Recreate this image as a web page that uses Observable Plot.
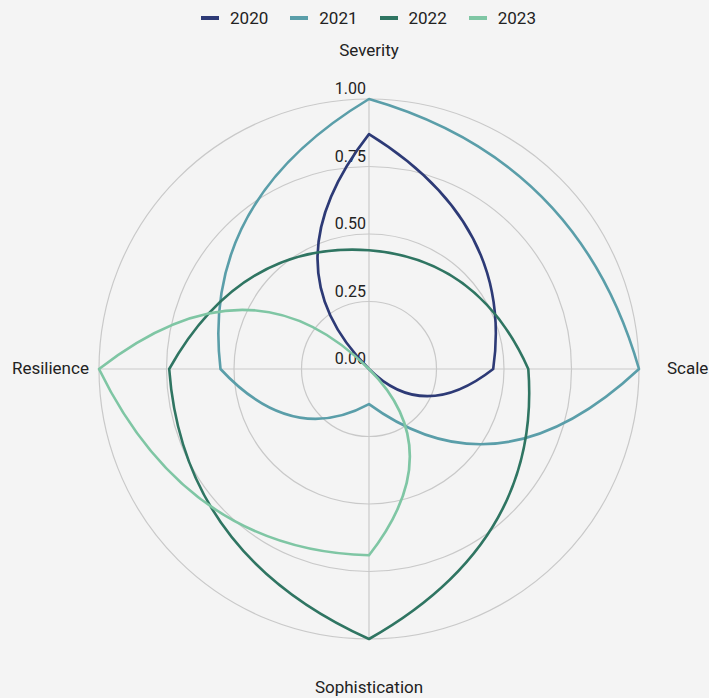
<!DOCTYPE html>
<html>
<head>
<meta charset="utf-8">
<script src="https://cdn.jsdelivr.net/npm/d3@7"></script>
<script src="https://cdn.jsdelivr.net/npm/@observablehq/plot@0.6"></script>
<style>
html, body { margin: 0; padding: 0; background: #f4f4f4; }
body { width: 709px; height: 698px; overflow: hidden; font-family: Roboto, sans-serif; }
#legend { height: 35px; width: 709px; box-sizing: border-box; padding-left: 28px; display: flex; justify-content: center; align-items: center; font-size: 17px; color: #222; }
.item { display: flex; align-items: center; margin: 0 11px; }
.sw { width: 18px; height: 4px; margin-right: 11px; }
#chart svg { display: block; }
</style>
</head>
<body>
<div id="legend"></div>
<div id="chart"></div>
<script>
// ---- data ----
const years = ["2020", "2021", "2022", "2023"];
const colors = ["#2d3a76", "#5a9ea9", "#2f7562", "#7fc6a4"];
const axes = ["Severity", "Scale", "Sophistication", "Resilience"];
const values2020 = [0.87, 0.46, 0, 0];
const values2021 = [1, 1, 0.13, 0.55];
const values2022 = [0.44, 0.59, 1, 0.74];
const values2023 = [0, 0, 0.69, 1];
const tickValues = [0, 0.25, 0.5, 0.75, 1];
const labelRadius = 1.18;

// ---- layout ----
const W = 709, H = 663;
const mL = 98.5, mR = 70.5, mT = 63.5, mB = 59.5;
const R = (W - mL - mR) / 2;
const cx = mL + R, cy = mT + R;

const seriesValues = [values2020, values2021, values2022, values2023];
const angle = i => i * 2 * Math.PI / axes.length;
const rows = years.flatMap((year, k) =>
  axes.map((axis, i) => ({year, axis, i, value: seriesValues[k][i]})));

// curved radar segments: each edge bends toward the bisector of its two spokes
function radarCurve(context) {
  let pts = [];
  return {
    areaStart() {}, areaEnd() {},
    lineStart() { pts = []; },
    point(x, y) { pts.push([+x, +y]); },
    lineEnd() {
      const n = pts.length;
      if (!n) return;
      context.moveTo(pts[0][0], pts[0][1]);
      for (let i = 0; i < n; i++) {
        const p0 = pts[i], p1 = pts[(i + 1) % n];
        const r0 = Math.hypot(p0[0] - cx, p0[1] - cy);
        const r1 = Math.hypot(p1[0] - cx, p1[1] - cy);
        const a = (i + 0.5) * 2 * Math.PI / n;
        const rc = 0.62 * Math.max(r0, r1) + 0.48 * Math.min(r0, r1);
        context.quadraticCurveTo(cx + rc * Math.sin(a), cy - rc * Math.cos(a), p1[0], p1[1]);
      }
      context.closePath();
    }
  };
}

// ---- legend ----
const legend = document.getElementById("legend");
years.forEach((y, k) => {
  const it = document.createElement("div");
  it.className = "item";
  it.innerHTML = `<span class="sw" style="background:${colors[k]}"></span><span>${y}</span>`;
  legend.appendChild(it);
});

const grid = "#c9c9c9";
const chart = Plot.plot({
  width: W, height: H,
  marginLeft: mL, marginRight: mR, marginTop: mT, marginBottom: mB,
  x: {domain: [-1, 1], axis: null},
  y: {domain: [-1, 1], axis: null},
  r: {type: "linear", domain: [0, 1], range: [0, R]},
  color: {domain: years, range: colors},
  style: {background: "transparent", fontFamily: "Roboto, sans-serif", overflow: "visible"},
  marks: [
    Plot.dot(tickValues.filter(d => d > 0), {x: () => 0, y: () => 0, r: d => d, stroke: grid, fill: "none", strokeWidth: 1.2}),
    Plot.link(axes, {x1: () => 0, y1: () => 0, x2: (d, i) => Math.sin(angle(i)), y2: (d, i) => Math.cos(angle(i)), stroke: grid, strokeWidth: 1.2}),
    Plot.text(tickValues, {x: () => 0, y: d => d, text: d => d.toFixed(2), textAnchor: "end", lineAnchor: "bottom", dx: -3, dy: -5, fontSize: 16, fill: "#222"}),
    Plot.text(axes, {x: (d, i) => labelRadius * Math.sin(angle(i)), y: (d, i) => labelRadius * Math.cos(angle(i)), text: d => d, fontSize: 17, fill: "#222"}),
    Plot.line(rows, {
      x: d => d.value * Math.sin(angle(d.i)),
      y: d => d.value * Math.cos(angle(d.i)),
      z: "year", stroke: "year", strokeWidth: 2.6, curve: radarCurve
    })
  ]
});
document.getElementById("chart").appendChild(chart);
</script>
</body>
</html>
